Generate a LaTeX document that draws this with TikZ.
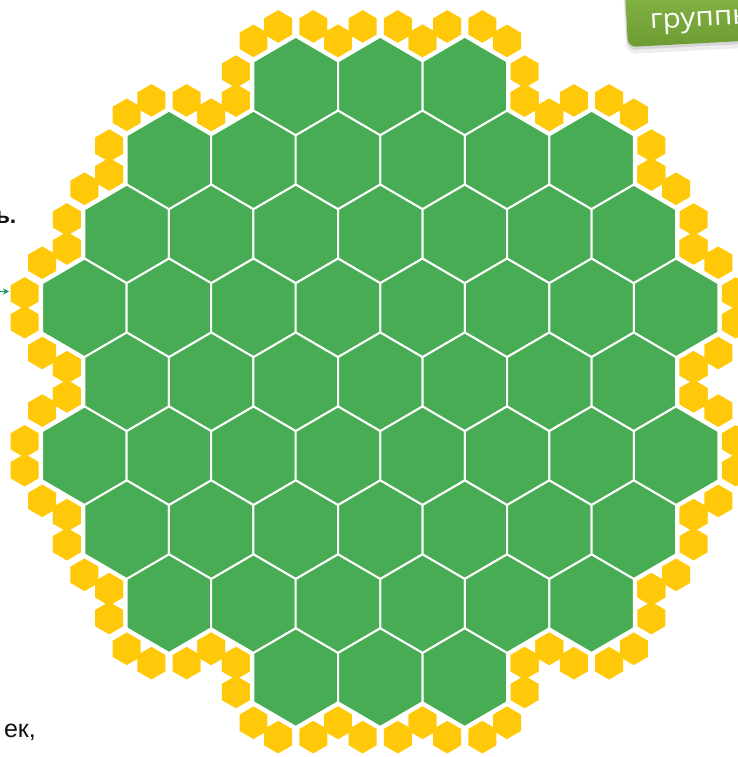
\documentclass[tikz,border=0pt]{standalone}
\usepackage{fontspec}
\setmainfont{Liberation Sans}
\newfontfamily\tabfont{Open Sans}
\usepackage{tikz}
\usetikzlibrary{arrows.meta,calc}
\definecolor{combgreen}{HTML}{48AC54}
\definecolor{combyellow}{HTML}{FFC809}
\definecolor{combtabtop}{HTML}{8DBD4D}
\definecolor{combtabbottom}{HTML}{6C9C31}
\definecolor{combarrow}{HTML}{16976A}
\definecolor{combink}{HTML}{111111}

\begin{document}
\begin{tikzpicture}[
    x=1pt,
    y=-1pt,
    cell/.style={fill=combgreen, draw=white, line width=2pt},
    seed/.style={fill=combyellow},
    pointer/.style={-{Stealth[length=6pt,width=6pt]}, line width=1.2pt, draw=combarrow}
  ]
    \useasboundingbox (0,0) rectangle (737,757);

    % tab in the upper right corner
    \begin{scope}[rotate around={3:(628,47)}, transform shape]
      \fill[black, opacity=0.07, rounded corners=10pt] (626,-20) rectangle (780,54);
      \fill[black, opacity=0.10, rounded corners=9pt] (627,-20) rectangle (780,50);
      \shade[top color=combtabtop, bottom color=combtabbottom, rounded corners=8pt] (628,-20) rectangle (780,47);
      \node[anchor=base west, font=\tabfont\fontsize{27}{30}\selectfont, text=white, xscale=1.1, inner sep=0pt] (tablabel) at (651,30) {группы};
    \end{scope}

    % text cut off at the left border
    \node[anchor=base east, font=\bfseries\fontsize{23}{26}\selectfont, text=combink, inner sep=0pt] (softsign) at (16.5,223.5) {ь.};
    \node[anchor=base east, font=\fontsize{25}{28}\selectfont, text=combink, inner sep=0pt] (ending) at (36,737) {ек,};
    \coordinate (pointtail) at (-12,291.5);
    \coordinate (pointtip) at (9,291.5);
    \draw[pointer] (pointtail) -- (pointtip);

    \begin{scope}[shift={(380.25pt,-381.8pt)}, x=48.79pt, y=49.3pt]
      % green cells, row by row: row/columns
      \foreach \r/\cols in {1/{-2,0,2}, 2/{-5,-3,...,5}, 3/{-6,-4,...,6}, 4/{-7,-5,...,7}, 5/{-6,-4,...,6},
                            6/{-7,-5,...,7}, 7/{-6,-4,...,6}, 8/{-5,-3,...,5}, 9/{-2,0,2}} {
        \foreach \c in \cols {
          \draw[cell] ({\c*0.866},{-(\r-5)*1.5}) +(90:1) -- +(30:1) -- +(-30:1) -- +(-90:1) -- +(-150:1) -- +(150:1) -- cycle;
        }
      }

      % yellow seeds, two on each free edge: column/row/edges (0 = upper right, then clockwise)
      \foreach \c/\r/\edges in {-2/1/{5,0,4}, 0/1/{5,0}, 2/1/{5,0,1},
                                -5/2/{0,5,4}, -3/2/{5}, 3/2/{0}, 5/2/{5,0,1},
                                -6/3/{5,4}, 6/3/{0,1},
                                -7/4/{5,4,3}, 7/4/{0,1,2},
                                -6/5/{4}, 6/5/{1},
                                -7/6/{5,4,3}, 7/6/{0,1,2},
                                -6/7/{4,3}, 6/7/{1,2},
                                -5/8/{4,3,2}, -3/8/{3}, 3/8/{2}, 5/8/{1,2,3},
                                -2/9/{4,3,2}, 0/9/{3,2}, 2/9/{1,2,3}} {
        \foreach \e in \edges {
          \foreach \s in {-1,1} {
            \fill[seed] ($({\c*0.866},{-(\r-5)*1.5})+({60-60*\e+\s*13.41}:1.2604)$)
              +(90:0.331) -- +(30:0.331) -- +(-30:0.331) -- +(-90:0.331) -- +(-150:0.331) -- +(150:0.331) -- cycle;
          }
        }
      }
    \end{scope}

\end{tikzpicture}
\end{document}
